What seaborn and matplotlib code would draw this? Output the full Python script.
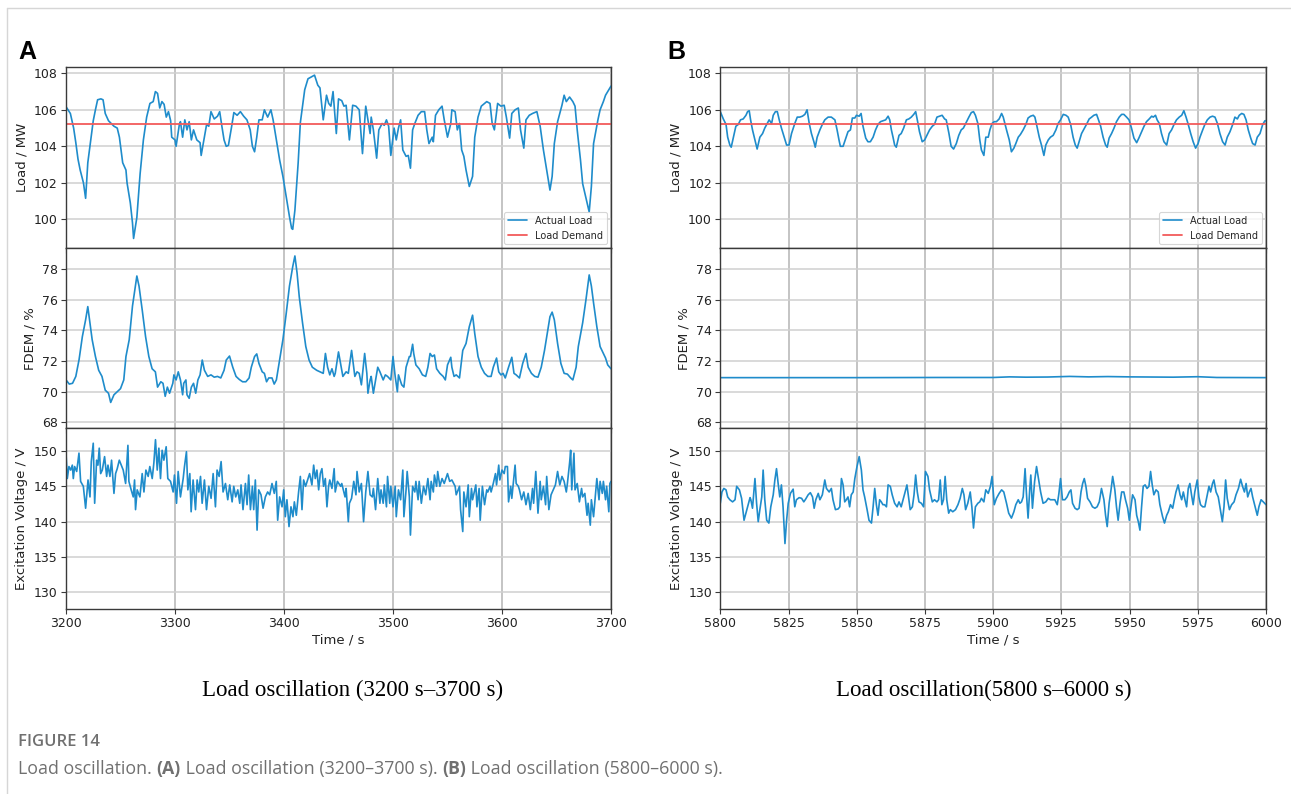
import matplotlib
matplotlib.use("Agg")
import matplotlib.pyplot as plt
from matplotlib.lines import Line2D
import seaborn as sns

# ---------------- data ----------------
# (A) 3200-3700 s
t_load_a = [3200, 3204, 3207, 3209, 3211, 3213, 3216, 3218, 3220, 3223, 3225, 3227, 3229, 3232, 3234, 3236,
            3239, 3244, 3247, 3249, 3252, 3255, 3256, 3259, 3261, 3262, 3265, 3268, 3271, 3274, 3277, 3280,
            3282, 3284, 3286, 3288, 3290, 3292, 3294, 3296, 3297, 3300, 3301, 3304, 3305, 3307, 3309, 3311,
            3313, 3315, 3317, 3320, 3323, 3324, 3327, 3329, 3331, 3333, 3336, 3339, 3341, 3343, 3345, 3347,
            3349, 3352, 3354, 3357, 3360, 3363, 3366, 3369, 3371, 3373, 3375, 3377, 3380, 3382, 3385, 3388,
            3390, 3393, 3396, 3399, 3402, 3405, 3407, 3408, 3410, 3413, 3415, 3419, 3422, 3425, 3428, 3431,
            3433, 3436, 3439, 3441, 3443, 3445, 3448, 3450, 3453, 3455, 3457, 3460, 3463, 3466, 3469, 3472,
            3475, 3477, 3479, 3480, 3482, 3485, 3487, 3490, 3492, 3494, 3496, 3498, 3501, 3503, 3505, 3507,
            3509, 3512, 3514, 3516, 3518, 3520, 3523, 3526, 3529, 3531, 3533, 3536, 3537, 3539, 3542, 3545,
            3547, 3550, 3553, 3554, 3557, 3559, 3561, 3563, 3565, 3567, 3570, 3573, 3575, 3578, 3581, 3586,
            3589, 3591, 3593, 3596, 3599, 3602, 3604, 3607, 3609, 3612, 3615, 3617, 3620, 3622, 3625, 3628,
            3632, 3635, 3638, 3641, 3644, 3646, 3648, 3651, 3655, 3657, 3659, 3662, 3665, 3667, 3669, 3672,
            3674, 3678, 3680, 3682, 3684, 3688, 3690, 3693, 3695, 3698, 3700]
load_a = [106.17, 105.8, 105.0, 104.2, 103.3, 102.7, 102.0, 101.15, 103.1, 104.5, 105.4, 106.0, 106.55, 106.6,
          106.55, 105.8, 105.4, 105.1, 105.0, 104.5, 103.1, 102.7, 102.0, 100.9, 99.8, 98.95, 100.1, 102.5,
          104.35, 105.6, 106.35, 106.45, 107.0, 106.9, 106.1, 106.45, 106.3, 105.6, 105.9, 105.4, 104.5,
          104.35, 104.0, 105.2, 105.35, 104.5, 105.45, 104.9, 105.35, 104.35, 104.9, 104.35, 104.2, 103.5,
          104.5, 105.2, 105.1, 105.9, 105.5, 105.65, 105.9, 105.1, 104.35, 104.0, 104.05, 105.1, 105.85,
          105.7, 105.9, 105.65, 105.45, 104.9, 104.0, 103.7, 104.5, 105.45, 105.45, 106.0, 105.6, 106.0,
          105.45, 104.35, 103.25, 102.35, 101.25, 100.15, 99.5, 99.45, 100.5, 103.1, 105.3, 107.1, 107.7,
          107.8, 107.9, 107.35, 107.2, 105.45, 106.8, 106.35, 106.2, 107.0, 104.7, 106.6, 106.5, 106.2,
          106.25, 104.35, 106.25, 106.2, 106.0, 103.6, 106.2, 105.45, 104.7, 105.6, 104.9, 103.35, 104.9,
          105.25, 105.15, 105.45, 105.1, 103.5, 105.0, 104.35, 105.0, 105.45, 103.8, 103.45, 103.5, 102.8,
          104.9, 105.25, 105.7, 105.9, 105.9, 104.9, 104.15, 104.5, 104.25, 105.7, 106.0, 106.2, 105.45,
          104.5, 105.25, 106.0, 105.9, 104.9, 105.25, 103.8, 103.45, 102.7, 101.8, 102.35, 104.5, 105.6,
          106.2, 106.45, 106.35, 105.25, 104.9, 106.35, 106.2, 106.25, 105.6, 104.45, 105.8, 106.0, 106.1,
          104.9, 103.9, 105.45, 105.7, 105.8, 105.9, 105.1, 103.8, 102.7, 101.6, 102.35, 104.15, 105.35,
          106.25, 106.8, 106.45, 106.7, 106.45, 106.2, 104.9, 103.25, 101.95, 100.9, 100.4, 101.8, 104.15,
          105.45, 106.0, 106.45, 106.8, 107.1, 107.3]
t_demand_a = [3200, 3700]
demand_a = [105.2, 105.2]

t_fdem_a = [3200, 3203, 3206, 3209, 3212, 3215, 3218, 3220, 3222, 3224, 3227, 3230, 3233, 3236, 3239, 3241,
            3244, 3247, 3250, 3253, 3255, 3258, 3261, 3265, 3267, 3270, 3273, 3276, 3279, 3282, 3284, 3287,
            3289, 3291, 3293, 3295, 3298, 3299, 3301, 3303, 3305, 3307, 3308, 3310, 3311, 3313, 3315, 3317,
            3319, 3321, 3323, 3325, 3327, 3330, 3333, 3336, 3339, 3342, 3345, 3347, 3350, 3353, 3356, 3359,
            3362, 3365, 3368, 3370, 3373, 3375, 3377, 3380, 3382, 3384, 3386, 3389, 3391, 3393, 3396, 3399,
            3402, 3405, 3408, 3410, 3412, 3414, 3417, 3420, 3423, 3426, 3430, 3433, 3436, 3438, 3440, 3442,
            3444, 3446, 3447, 3450, 3453, 3454, 3457, 3459, 3462, 3465, 3467, 3469, 3471, 3474, 3476, 3477,
            3479, 3480, 3482, 3484, 3486, 3488, 3491, 3493, 3495, 3498, 3500, 3502, 3504, 3505, 3508, 3510,
            3512, 3515, 3516, 3518, 3519, 3521, 3524, 3527, 3530, 3532, 3534, 3536, 3538, 3540, 3543, 3546,
            3548, 3550, 3553, 3554, 3556, 3558, 3561, 3564, 3567, 3570, 3573, 3575, 3578, 3581, 3584, 3587,
            3590, 3592, 3595, 3597, 3599, 3601, 3603, 3606, 3609, 3611, 3613, 3616, 3619, 3622, 3624, 3627,
            3630, 3633, 3636, 3639, 3642, 3644, 3646, 3648, 3651, 3654, 3657, 3660, 3663, 3665, 3668, 3670,
            3674, 3677, 3680, 3682, 3684, 3687, 3690, 3693, 3695, 3697, 3700]
fdem_a = [70.77, 70.5, 70.55, 71.0, 72.1, 73.6, 74.7, 75.56, 74.5, 73.4, 72.3, 71.4, 71.0, 70.1, 69.9, 69.3,
          69.8, 70.0, 70.2, 70.77, 72.3, 73.4, 75.6, 77.56, 76.9, 75.3, 73.6, 72.3, 71.5, 71.3, 70.3, 70.65,
          70.55, 69.7, 70.3, 69.9, 70.55, 71.1, 70.77, 71.3, 70.77, 69.8, 70.55, 70.77, 69.8, 69.57, 70.3,
          70.55, 69.9, 70.77, 71.1, 72.07, 71.4, 71.0, 71.1, 70.95, 71.0, 70.9, 71.4, 72.07, 72.33, 71.6,
          71.0, 70.8, 70.65, 70.65, 70.9, 71.6, 72.3, 72.47, 71.85, 71.3, 71.2, 70.65, 70.9, 70.9, 70.5,
          70.77, 72.07, 73.4, 75.1, 76.9, 78.17, 78.87, 77.75, 76.2, 74.5, 72.95, 72.07, 71.6, 71.4, 71.3,
          71.2, 72.5, 71.6, 71.1, 71.5, 71.0, 71.2, 72.6, 71.4, 71.0, 71.3, 71.2, 72.7, 71.0, 71.3, 71.2,
          70.45, 72.5, 71.2, 69.9, 70.77, 71.0, 69.9, 70.77, 71.6, 71.3, 70.77, 71.1, 71.0, 70.77, 72.3,
          71.0, 70.0, 71.1, 70.45, 70.3, 71.6, 72.3, 72.3, 73.1, 72.5, 71.75, 71.5, 71.1, 71.0, 71.6, 72.5,
          72.3, 72.4, 71.5, 71.2, 71.0, 70.77, 71.75, 72.25, 71.6, 71.0, 71.1, 70.9, 72.7, 73.15, 74.25,
          75.0, 73.8, 72.3, 71.6, 71.2, 71.0, 71.0, 71.6, 72.2, 71.3, 71.1, 71.2, 70.9, 71.6, 72.25, 71.2,
          71.1, 70.9, 71.85, 72.5, 71.6, 71.2, 71.0, 70.95, 71.6, 72.7, 74.0, 74.9, 75.2, 74.7, 73.15, 71.85,
          71.2, 71.15, 70.9, 70.77, 71.6, 72.95, 74.5, 76.0, 77.63, 76.9, 75.8, 74.25, 72.95, 72.5, 72.2,
          71.75, 71.5]

t_exc_a = [3200.0, 3201.2, 3202.7, 3204.3, 3205.8, 3206.7, 3207.9, 3209.8, 3211.9, 3213.4, 3215.9, 3218.0,
           3220.2, 3222.0, 3223.2, 3225.0, 3226.3, 3228.1, 3229.3, 3230.5, 3231.8, 3233.3, 3235.4, 3237.3,
           3238.5, 3240.3, 3241.8, 3244.0, 3245.5, 3247.0, 3248.9, 3250.7, 3252.5, 3254.7, 3256.8, 3257.7,
           3259.8, 3261.7, 3262.9, 3263.8, 3265.3, 3267.8, 3269.9, 3271.5, 3273.3, 3275.4, 3276.9, 3279.1,
           3280.6, 3282.1, 3283.7, 3285.2, 3286.7, 3288.2, 3289.8, 3291.9, 3293.4, 3295.9, 3298.3, 3299.5,
           3301.4, 3302.9, 3305.0, 3307.5, 3308.7, 3310.5, 3311.8, 3313.6, 3314.8, 3316.6, 3318.8, 3320.3,
           3321.8, 3323.4, 3324.9, 3327.0, 3328.9, 3331.0, 3333.1, 3335.0, 3337.1, 3338.6, 3340.5, 3342.3,
           3344.1, 3346.3, 3348.4, 3350.2, 3352.4, 3353.9, 3355.7, 3357.6, 3359.4, 3360.6, 3362.4, 3364.6,
           3366.1, 3367.6, 3369.2, 3371.0, 3372.2, 3373.7, 3375.3, 3376.8, 3378.9, 3380.8, 3382.9, 3385.0,
           3386.9, 3389.0, 3391.1, 3392.9, 3394.2, 3396.0, 3398.2, 3399.7, 3401.2, 3402.7, 3404.6, 3406.4,
           3408.2, 3409.5, 3411.3, 3413.4, 3415.0, 3416.5, 3418.0, 3419.8, 3421.7, 3423.5, 3425.6, 3427.2,
           3428.7, 3430.2, 3431.8, 3433.3, 3434.8, 3436.3, 3437.9, 3439.4, 3440.9,
           3442, 3444, 3446, 3447, 3449, 3452, 3453, 3456, 3457, 3459, 3460, 3462, 3464, 3466, 3467, 3469,
           3471, 3473, 3475, 3477, 3479, 3481, 3482, 3484, 3486, 3488, 3489, 3491, 3492, 3494, 3495, 3497,
           3498, 3500, 3502, 3503, 3505, 3507, 3509, 3510, 3512, 3513, 3515, 3516, 3518, 3520, 3521, 3523,
           3524, 3526, 3528, 3530, 3532, 3534, 3535, 3537, 3538, 3540, 3541, 3543, 3545, 3547, 3550, 3552,
           3554, 3557, 3558, 3561, 3562, 3564, 3565, 3567, 3569, 3570, 3572, 3573, 3576, 3577, 3579, 3580,
           3582, 3584, 3586, 3587, 3589, 3590, 3592, 3594, 3595, 3597, 3598, 3600, 3602, 3603, 3605, 3606,
           3608, 3609, 3612, 3613, 3615, 3616, 3618, 3620, 3622, 3624, 3626, 3628, 3629, 3631, 3633, 3635,
           3636, 3638, 3640, 3641, 3643, 3645, 3647, 3649, 3651, 3653, 3655, 3657, 3659, 3660, 3662, 3663,
           3664, 3666, 3667, 3669, 3671, 3673, 3674, 3676, 3678, 3679, 3681, 3682, 3684, 3686, 3687, 3689,
           3690, 3692, 3693, 3695, 3696, 3698, 3699, 3700]
exc_a = [149.7, 146.1, 147.8, 147.3, 148.0, 146.1, 147.8, 147.1, 149.7, 145.7, 145.0, 141.9, 145.9, 143.5,
         148.5, 151.1, 142.6, 148.7, 148.0, 150.4, 146.8, 147.3, 149.2, 146.4, 148.0, 146.4, 148.7, 144.0,
         146.8, 147.5, 148.7, 148.0, 147.3, 145.4, 150.8, 145.7, 144.5, 143.5, 145.9, 141.7, 144.5, 143.5,
         146.8, 144.2, 147.3, 146.4, 147.8, 146.1, 148.3, 151.6, 147.3, 150.4, 146.1, 150.1, 148.7, 150.6,
         146.1, 145.7, 144.2, 146.6, 142.6, 147.1, 143.5, 146.1, 147.8, 149.9, 144.5, 146.8, 141.4, 145.9,
         141.7, 145.9, 144.2, 146.4, 142.6, 145.9, 141.7, 145.0, 143.3, 146.8, 142.1, 147.3, 146.4, 148.5,
         144.2, 145.4, 143.1, 145.2, 142.8, 145.0, 143.5, 144.5, 142.6, 145.2, 141.7, 145.4, 142.4, 146.6,
         141.7, 145.0, 141.7, 145.9, 138.8, 144.5, 143.8, 141.9, 143.5, 144.2, 143.8, 145.4, 144.0, 145.7,
         140.2, 143.5, 142.1, 144.5, 140.7, 143.1, 139.3, 142.1, 140.7, 142.8, 140.9, 144.2, 146.4, 141.7,
         145.9, 145.0, 145.9, 146.8, 145.2, 148.0, 146.1, 147.3, 144.5, 146.8, 147.5, 145.0, 146.1, 142.1,
         145.0,
         145.9, 144.7, 147.5, 144.2, 145.7, 145.0, 145.4, 143.5, 144.7, 140.0, 142.6, 143.3, 145.7, 143.8,
         147.1, 144.2, 145.4, 140.0, 144.2, 147.1, 143.8, 143.5, 144.7, 141.7, 146.1, 142.6, 144.5, 142.6,
         145.2, 142.1, 146.4, 142.6, 145.0, 142.1, 145.0, 140.7, 144.5, 143.1, 147.3, 140.7, 144.5, 147.1,
         143.5, 138.1, 145.0, 144.2, 145.7, 143.1, 145.7, 142.6, 145.0, 143.8, 146.1, 143.1, 145.7, 144.2,
         146.6, 145.0, 147.1, 145.0, 146.1, 145.4, 146.8, 145.7, 145.9, 145.0, 143.8, 145.0, 141.7, 138.6,
         144.2, 142.1, 145.2, 140.7, 144.7, 143.1, 145.2, 142.1, 144.7, 140.2, 145.0, 142.4, 144.5, 144.2,
         145.0, 144.2, 145.4, 146.8, 145.2, 148.0, 145.9, 147.3, 146.8, 147.8, 147.8, 142.8, 145.0, 143.3,
         148.0, 145.4, 145.0, 144.5, 143.1, 144.2, 142.4, 144.0, 141.7, 144.7, 142.6, 147.1, 141.2, 145.7,
         143.1, 145.0, 142.4, 146.4, 141.7, 143.8, 144.5, 145.2, 147.1, 145.2, 146.4, 145.7, 144.2, 145.4,
         148.3, 150.1, 144.5, 149.7, 144.5, 145.4, 142.8, 144.7, 143.5, 144.0, 140.9, 142.6, 139.5, 143.1,
         140.7, 144.2, 146.1, 143.1, 145.7, 144.0, 145.7, 143.1, 145.0, 141.4, 145.4, 145.7]

# (B) 5800-6000 s
t_load_b = [5800.0, 5801.1, 5802.1, 5802.7, 5803.5, 5804.0, 5804.8, 5805.7, 5806.6, 5807.4, 5808.4, 5809.4,
            5810.0, 5810.6, 5811.1, 5811.8, 5812.7, 5813.5, 5814.5, 5815.5, 5816.3, 5817.2, 5817.9, 5818.8,
            5819.4, 5820.2, 5820.9, 5821.6, 5822.4, 5823.4, 5824.3, 5825.2, 5826.1, 5827.3, 5828.2, 5829.1,
            5830.1, 5831.0, 5831.8, 5832.6, 5833.4, 5834.3, 5834.8, 5835.5, 5836.5, 5837.4, 5838.3, 5839.5,
            5840.7, 5842.0, 5842.8, 5843.5, 5844.0, 5845.0, 5846.0, 5846.8, 5847.7, 5848.4, 5849.3, 5849.9,
            5850.9, 5851.6, 5852.3, 5853.3, 5854.1, 5855.0, 5856.0, 5856.9, 5857.8, 5858.7, 5859.6, 5860.6,
            5861.5, 5862.1, 5862.7, 5863.3, 5863.9, 5864.5, 5865.5, 5866.3, 5867.2, 5868.2, 5869.1, 5870.0,
            5870.9, 5871.6, 5872.2, 5873.0, 5874.0, 5874.9, 5875.7, 5876.7, 5877.7, 5878.5, 5879.4, 5880.4,
            5881.3, 5882.2, 5882.8, 5883.8, 5884.6, 5885.5, 5886.5, 5887.4, 5888.3, 5889.1, 5890.1, 5891.1,
            5892.0, 5892.8, 5893.5, 5894.4, 5895.1, 5895.7, 5896.6, 5897.3, 5898.2, 5898.8, 5899.6, 5900.4,
            5901.2, 5902.2, 5903.1, 5903.7, 5904.3, 5904.9, 5905.9, 5906.7, 5907.6, 5908.3, 5909.2, 5910.0,
            5911.0, 5912.0, 5912.8, 5913.7, 5914.7, 5915.3, 5915.9, 5916.9, 5917.7, 5918.6, 5919.3, 5920.2,
            5921.0, 5922.0, 5923.0, 5923.8, 5924.7, 5925.7, 5926.7, 5927.5, 5928.4, 5929.3, 5930.1, 5930.8,
            5931.5, 5932.4, 5933.3, 5934.2, 5935.2, 5936.1, 5936.9, 5937.9, 5938.5, 5939.4, 5940.3, 5941.2,
            5941.8, 5942.5, 5943.4, 5944.3, 5945.2, 5946.2, 5947.1, 5947.9, 5948.9, 5949.8, 5950.7, 5951.6,
            5952.6, 5953.4, 5954.4, 5955.3, 5956.2, 5957.2, 5958.1, 5958.7, 5959.5, 5960.1, 5960.9, 5961.7,
            5962.6, 5963.6, 5964.5, 5965.4, 5966.3, 5967.2, 5968.2, 5969.1, 5969.9, 5970.7, 5971.5, 5972.4,
            5973.3, 5974.2, 5975.1, 5975.8, 5976.8, 5977.6, 5978.5, 5979.5, 5980.4, 5981.3, 5982.2, 5983.1,
            5984.1, 5985.0, 5985.8, 5986.8, 5987.8, 5988.6, 5989.5, 5990.2, 5991.1, 5991.9, 5992.7, 5993.5,
            5994.4, 5995.1, 5996.0, 5996.8, 5997.8, 5998.8, 5999.6, 6000.0]
load_b = [105.9, 105.5, 105.2, 104.5, 104.07, 103.95, 104.5, 105.1, 105.2, 105.45, 105.5, 105.7, 105.9,
          105.95, 105.45, 104.9, 104.35, 103.85, 104.5, 104.7, 105.0, 105.25, 105.45, 105.25, 105.7, 105.9,
          105.9, 105.45, 105.0, 104.5, 104.07, 104.07, 104.7, 105.25, 105.6, 105.6, 105.65, 105.75, 106.0,
          105.25, 104.7, 104.25, 103.95, 104.5, 104.9, 105.2, 105.45, 105.6, 105.6, 105.45, 104.9, 104.35,
          104.0, 104.0, 104.45, 104.8, 104.9, 105.55, 105.55, 105.7, 105.65, 105.8, 105.1, 104.45, 104.25,
          104.25, 104.5, 104.9, 105.2, 105.35, 105.4, 105.45, 105.65, 105.45, 104.9, 104.5, 104.07, 103.95,
          104.6, 104.7, 105.0, 105.45, 105.5, 105.6, 105.75, 105.9, 105.45, 104.8, 104.25, 104.35, 104.6,
          104.9, 105.1, 105.2, 105.6, 105.65, 105.7, 105.5, 105.45, 104.7, 104.0, 103.85, 104.15, 104.6,
          104.9, 105.0, 105.3, 105.6, 105.85, 105.9, 105.7, 105.25, 104.35, 103.8, 103.5, 104.5, 104.5,
          104.9, 105.25, 105.35, 105.35, 105.5, 105.8, 105.6, 105.25, 104.9, 104.35, 103.7, 103.9, 104.15,
          104.5, 104.65, 104.9, 105.2, 105.55, 105.65, 105.7, 105.6, 105.2, 104.5, 104.07, 103.5, 104.07,
          104.35, 104.5, 104.6, 104.9, 105.25, 105.45, 105.75, 105.7, 105.6, 105.2, 104.5, 104.07, 103.9,
          104.25, 104.7, 104.95, 105.2, 105.5, 105.6, 105.7, 105.75, 105.5, 105.1, 104.5, 104.07, 103.95,
          104.45, 104.7, 105.0, 105.35, 105.6, 105.75, 105.75, 105.6, 105.45, 105.0, 104.45, 104.2, 104.45,
          104.8, 105.1, 105.35, 105.5, 105.65, 105.6, 105.7, 105.45, 105.25, 104.7, 104.25, 104.07, 104.7,
          104.9, 105.2, 105.45, 105.6, 105.7, 105.95, 105.6, 105.2, 104.7, 104.25, 103.9, 104.15, 104.5,
          104.9, 105.2, 105.45, 105.6, 105.65, 105.6, 105.25, 104.7, 104.25, 104.07, 104.5, 104.8, 105.2,
          105.6, 105.5, 105.7, 105.8, 105.75, 105.45, 104.9, 104.45, 104.15, 104.07, 104.5, 104.7, 105.2,
          105.4, 105.4]
t_demand_b = [5800, 6000]
demand_b = [105.2, 105.2]

t_fdem_b = [5800, 5850, 5880, 5900, 5906, 5912, 5920, 5928, 5935, 5942, 5950, 5958, 5966, 5975, 5982, 6000]
fdem_b = [70.92, 70.92, 70.93, 70.93, 70.97, 70.95, 70.96, 71.0, 70.97, 70.99, 70.97, 70.96, 70.95, 70.98,
          70.93, 70.92]

t_exc_b = [5800.0, 5800.6, 5801.3, 5802.1, 5802.7, 5803.5, 5804.5, 5805.4, 5806.0, 5807.0, 5807.8, 5808.7,
           5809.4, 5810.2, 5810.9, 5811.2, 5811.8, 5812.7, 5813.3, 5813.9, 5814.5, 5815.2, 5815.7, 5816.3,
           5817.0, 5817.8, 5818.5, 5819.4, 5820.0, 5820.6, 5821.2, 5821.8, 5822.4, 5823.0, 5823.7, 5824.3,
           5824.9, 5825.7, 5826.7, 5827.3, 5827.9, 5828.9, 5829.8, 5830.6, 5831.3, 5832.2, 5833.0, 5833.8,
           5834.4, 5835.0, 5835.9, 5836.5, 5837.4, 5838.3, 5838.9, 5839.9, 5840.7, 5841.3, 5842.2, 5843.2,
           5843.8, 5844.4, 5845.0, 5845.6, 5846.2, 5846.8, 5847.4, 5848.0, 5848.7, 5849.3, 5850.1, 5850.9,
           5851.7, 5852.3, 5852.9, 5853.8, 5854.5, 5855.4, 5856.0, 5856.6, 5857.2, 5857.8, 5858.4, 5859.0,
           5859.6, 5860.2, 5860.9, 5861.5, 5862.3, 5863.0, 5863.9, 5864.8, 5865.5, 5866.3, 5867.0, 5867.6,
           5868.4, 5869.1, 5869.6, 5870.4, 5871.0, 5871.6, 5872.2, 5872.8, 5873.7, 5874.5, 5875.2, 5876.1,
           5876.7, 5877.7, 5878.5, 5879.4, 5880.0, 5880.6, 5881.2, 5881.8, 5882.4, 5883.0, 5883.7, 5884.3,
           5885.2, 5886.2, 5887.1, 5887.9, 5888.7, 5889.3, 5889.9, 5890.7, 5891.6, 5892.2, 5892.8, 5893.5,
           5894.4, 5895.1, 5895.7, 5896.6, 5897.3, 5898.2, 5899.0, 5899.6, 5900.4, 5901.2, 5902.2, 5903.1,
           5903.9, 5904.9, 5905.7, 5906.7, 5907.6, 5908.3, 5909.2, 5909.8, 5910.4, 5911.0, 5911.7, 5912.2,
           5912.8, 5913.4, 5913.8, 5914.4, 5915.2, 5915.9, 5916.6, 5917.4, 5918.3, 5919.3, 5920.2, 5921.0,
           5921.8, 5922.6, 5923.5, 5924.1, 5924.7, 5925.4, 5926.3, 5927.1, 5927.9, 5928.5, 5929.1, 5930.0,
           5930.8, 5931.5, 5932.2, 5932.8, 5933.4, 5934.0, 5934.6, 5935.5, 5936.4, 5937.3, 5938.1, 5938.9,
           5939.7, 5940.6, 5941.2, 5941.8, 5942.5, 5943.2, 5943.8, 5944.6, 5945.2, 5945.8, 5946.5, 5947.1,
           5947.9, 5948.5, 5949.3, 5949.9, 5950.5, 5951.1, 5952.0, 5952.6, 5953.2, 5953.8, 5954.4, 5955.0,
           5955.7, 5956.4, 5957.1, 5957.7, 5958.3, 5958.9, 5959.7, 5960.5, 5961.1, 5962.1, 5962.8, 5963.6,
           5964.2, 5965.0, 5965.8, 5966.4, 5967.0, 5967.8, 5968.5, 5969.1, 5969.7, 5970.3, 5970.9, 5971.5,
           5972.1, 5972.7, 5973.3, 5973.9, 5974.8, 5975.4, 5976.0, 5976.8, 5977.6, 5978.5, 5979.1, 5979.7,
           5980.4, 5980.9, 5981.7, 5982.5, 5983.4, 5984.0, 5984.6, 5985.2, 5985.8, 5986.6, 5987.4, 5988.3,
           5989.0, 5989.9, 5990.7, 5991.4, 5992.1, 5992.7, 5993.3, 5993.9, 5994.5, 5995.1, 5996.0, 5996.8,
           5997.4, 5998.2, 5999.0, 6000.0]
exc_b = [142.6, 144.2, 144.7, 144.5, 143.5, 143.1, 142.8, 143.1, 145.0, 144.5, 143.3, 140.2, 141.2, 142.4,
         143.4, 143.1, 141.9, 146.1, 142.6, 140.0, 141.7, 143.5, 147.3, 143.1, 140.2, 139.8, 142.1, 143.8,
         145.9, 147.5, 145.4, 143.5, 145.2, 142.1, 136.9, 140.2, 142.6, 144.0, 144.6, 142.1, 143.1, 143.4,
         143.3, 142.8, 143.2, 143.8, 144.1, 143.5, 141.9, 143.1, 144.0, 143.1, 143.8, 145.9, 144.7, 144.2,
         144.7, 143.1, 141.7, 141.8, 142.1, 146.1, 145.2, 142.8, 143.1, 143.5, 142.1, 143.8, 144.2, 146.1,
         147.8, 149.2, 147.3, 144.5, 143.5, 141.7, 140.2, 139.8, 142.1, 144.7, 142.4, 140.9, 143.1, 142.8,
         142.4, 142.4, 142.1, 145.2, 145.0, 143.8, 142.6, 142.1, 142.8, 142.1, 143.1, 144.0, 145.2, 143.1,
         141.7, 142.1, 143.8, 146.6, 144.2, 142.8, 142.6, 142.1, 147.1, 146.4, 144.5, 142.8, 143.1, 142.8,
         143.1, 145.9, 142.4, 143.1, 146.4, 143.1, 141.2, 141.7, 141.4, 141.7, 142.4, 143.3, 144.7, 143.8,
         141.7, 142.6, 144.2, 142.1, 139.1, 142.1, 142.6, 142.8, 143.3, 142.8, 144.5, 144.0, 145.0, 146.4,
         142.4, 143.3, 144.0, 144.5, 144.2, 142.6, 141.2, 140.5, 141.4, 142.4, 143.1, 142.6, 142.8, 143.5,
         147.5, 144.0, 140.5, 144.5, 146.6, 141.9, 145.7, 147.8, 146.1, 144.2, 142.6, 142.8, 143.3, 143.1,
         143.1, 143.1, 142.4, 144.0, 146.1, 143.1, 143.1, 143.5, 144.2, 144.5, 142.6, 141.9, 141.7, 141.9,
         144.2, 145.4, 146.1, 145.0, 143.3, 142.8, 142.1, 141.9, 142.1, 142.8, 144.7, 143.1, 140.9, 139.3,
         142.6, 144.5, 146.4, 144.5, 142.1, 140.2, 142.6, 144.2, 144.2, 143.1, 141.9, 140.2, 142.1, 143.8,
         143.1, 140.9, 140.0, 138.8, 142.1, 145.0, 145.2, 144.7, 145.0, 147.1, 145.2, 143.8, 144.5, 144.2,
         142.4, 140.7, 139.8, 140.9, 141.4, 142.4, 141.9, 143.1, 144.2, 145.2, 143.8, 143.1, 144.2, 143.1,
         142.1, 144.7, 145.4, 143.8, 142.4, 144.2, 145.9, 143.5, 142.4, 142.1, 142.1, 143.8, 145.0, 144.2,
         145.4, 145.9, 144.2, 143.5, 141.4, 140.0, 142.1, 145.9, 143.3, 141.7, 142.4, 142.8, 143.8, 144.7,
         146.0, 145.0, 144.2, 145.4, 143.5, 144.2, 144.7, 143.5, 142.1, 140.9, 142.1, 143.1, 142.8, 142.4]

xticks_a = [3200, 3300, 3400, 3500, 3600, 3700]
xticks_b = [5800, 5825, 5850, 5875, 5900, 5925, 5950, 5975, 6000]
yticks_load = [100, 102, 104, 106, 108]
yticks_fdem = [68, 70, 72, 74, 76, 78]
yticks_exc = [130, 135, 140, 145, 150]

panel_titles = ["Load oscillation (3200 s\u20133700 s)", "Load oscillation(5800 s\u20136000 s)"]

# ---------------- style ----------------
sns.set_theme(style="ticks")
plt.rcParams["font.family"] = ["DejaVu Sans"]
BLUE = "#1f8ccb"
RED = "#f25a5a"

W, H = 1291, 794
fig = plt.figure(figsize=(W / 100, H / 100), dpi=100)


def fx(px):
    return px / W


def fy(py):
    return 1 - py / H


rows = [(67.3, 248.3), (248.3, 428.3), (428.3, 609.0)]
cols = [(66.0, 611.0), (720.3, 1266.0)]
ylims = [(98.41, 108.33), (67.61, 79.37), (127.64, 153.21)]
yticks = [yticks_load, yticks_fdem, yticks_exc]
ylabels = ["Load / MW", "FDEM / %", "Excitation Voltage / V"]

series = [
    [(t_load_a, load_a), (t_fdem_a, fdem_a), (t_exc_a, exc_a)],
    [(t_load_b, load_b), (t_fdem_b, fdem_b), (t_exc_b, exc_b)],
]
demands = [(t_demand_a, demand_a), (t_demand_b, demand_b)]
xlims = [(3200, 3700), (5800, 6000)]
xticks = [xticks_a, xticks_b]

for c, (x0, x1) in enumerate(cols):
    for r, (y0, y1) in enumerate(rows):
        ax = fig.add_axes([fx(x0), fy(y1), fx(x1 - x0), (y1 - y0) / H])
        t, v = series[c][r]
        if r == 0:
            sns.lineplot(x=t, y=v, ax=ax, color=BLUE, linewidth=1.2, estimator=None,
                         label="Actual Load")
            td, vd = demands[c]
            sns.lineplot(x=td, y=vd, ax=ax, color=RED, linewidth=1.3, estimator=None,
                         label="Load Demand")
            leg = ax.legend(loc="lower right", fontsize=7, frameon=True, fancybox=True,
                            borderaxespad=0.4, handlelength=2.0)
            leg.get_frame().set_edgecolor("#cccccc")
            leg.get_frame().set_linewidth(0.8)
        else:
            sns.lineplot(x=t, y=v, ax=ax, color=BLUE, linewidth=1.2, estimator=None)
        ax.set_xlim(*xlims[c])
        ax.set_ylim(*ylims[r])
        ax.set_xticks(xticks[c])
        ax.set_yticks(yticks[r])
        ax.grid(True, axis="x", color="#b4b4b4", linewidth=1.1)
        ax.grid(True, axis="y", color="#d0d0d0", linewidth=1.1)
        ax.set_axisbelow(True)
        for s in ax.spines.values():
            s.set_color("#3a3a3a")
            s.set_linewidth(1.0)
        ax.tick_params(axis="both", direction="out", length=3.5, width=0.8, color="#3a3a3a",
                       labelsize=9, labelcolor="#222222", pad=2.5)
        ax.set_ylabel(ylabels[r], fontsize=9.5, color="#222222", labelpad=4)
        if r < 2:
            ax.tick_params(axis="x", labelbottom=False)
            ax.set_xlabel("")
        else:
            ax.set_xlabel("Time / s", fontsize=9.5, color="#222222", labelpad=2)

# panel letters
fig.text(fx(18), fy(52), "A", fontsize=18, fontweight="bold", family="Liberation Sans",
         va="center", ha="left", color="black")
fig.text(fx(667), fy(52), "B", fontsize=18, fontweight="bold", family="Liberation Sans",
         va="center", ha="left", color="black")

# sub-figure captions
fig.text(fx(353), fy(690), panel_titles[0], fontsize=16.5, family="Liberation Serif",
         ha="center", va="center", color="black")
fig.text(fx(984), fy(690), panel_titles[1], fontsize=16.5, family="Liberation Serif",
         ha="center", va="center", color="black")

# figure caption
CAP = "#707070"
fig.text(fx(18), fy(742), "FIGURE 14", fontsize=12, fontweight="semibold", family="Open Sans",
         va="center", ha="left", color=CAP)
pieces = [("Load oscillation. ", "normal"), ("(A)", "bold"),
          (" Load oscillation (3200\u20133700 s). ", "normal"), ("(B)", "bold"),
          (" Load oscillation (5800\u20136000 s).", "normal")]
renderer = fig.canvas.get_renderer()
xpos = fx(18)
for txt, wt in pieces:
    tobj = fig.text(xpos, fy(769), txt, fontsize=12.8, fontweight=wt, family="Open Sans",
                    va="center", ha="left", color=CAP)
    bb = tobj.get_window_extent(renderer=renderer)
    xpos = bb.x1 / W

# page edges
fig.add_artist(Line2D([fx(7), fx(7)], [0, fy(8)], color="#d6d6d6", linewidth=1.0))
fig.add_artist(Line2D([fx(7), 1], [fy(8), fy(8)], color="#d6d6d6", linewidth=1.0))

fig.savefig("out.png", dpi=100)
